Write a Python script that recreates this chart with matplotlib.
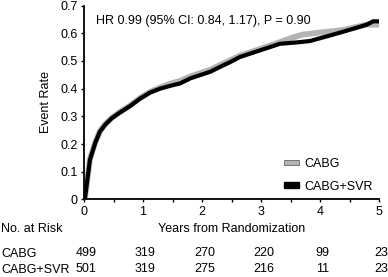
import matplotlib.pyplot as plt
from matplotlib.patches import Patch

plt.rcParams['font.family'] = ['Liberation Sans', 'DejaVu Sans']

# cumulative event rate
years_svr = [0, 0.02, 0.1, 0.19, 0.27, 0.36, 0.47, 0.61, 0.78, 0.95, 1.12, 1.29, 1.46,
             1.63, 1.80, 1.97, 2.14, 2.31, 2.47, 2.64, 2.98, 3.32, 3.5, 3.66, 3.83, 4.0,
             4.17, 4.35, 4.56, 4.79, 4.9, 4.97]
rate_svr = [0, 0.01, 0.143, 0.204, 0.245, 0.27, 0.293, 0.314, 0.337, 0.364, 0.386, 0.40, 0.41,
            0.419, 0.437, 0.449, 0.461, 0.479, 0.495, 0.514, 0.538, 0.562, 0.565, 0.568, 0.572, 0.582,
            0.592, 0.603, 0.616, 0.631, 0.643, 0.643]

years_cabg = [0, 0.02, 0.1, 0.19, 0.27, 0.36, 0.47, 0.61, 0.78, 0.95, 1.12, 1.29, 1.46,
              1.63, 1.80, 1.97, 2.14, 2.31, 2.47, 2.64, 2.98, 3.32, 3.5, 3.7, 3.9, 4.1,
              4.25, 4.4, 4.56, 4.79, 4.9, 4.97]
rate_cabg = [0, 0.012, 0.145, 0.206, 0.247, 0.272, 0.295, 0.316, 0.339, 0.366, 0.388, 0.404, 0.418,
             0.428, 0.444, 0.456, 0.468, 0.486, 0.502, 0.519, 0.543, 0.568, 0.582, 0.595, 0.600, 0.605,
             0.608, 0.612, 0.62, 0.631, 0.631, 0.631]

risk_years = [0, 1, 2, 3, 4, 5]
risk_cabg = [499, 319, 270, 220, 99, 23]
risk_svr = [501, 319, 275, 216, 11, 23]

fig = plt.figure(figsize=(3.88, 2.77), dpi=100)
ax = fig.add_axes([0.2165, 0.28, 0.7605, 0.70])

ax.plot(years_cabg, rate_cabg, color='#b4b4b4', lw=4.2, solid_joinstyle='miter')
ax.plot(years_svr, rate_svr, color='black', lw=3.0, solid_joinstyle='miter')

ax.set_xlim(0, 5)
ax.set_ylim(0, 0.7)
ax.set_xticks(risk_years)
ax.set_xticks([0.5, 1.5, 2.5, 3.5, 4.5], minor=True)
ax.set_yticks([0, 0.1, 0.2, 0.3, 0.4, 0.5, 0.6, 0.7])
ax.set_yticklabels(['0', '0.1', '0.2', '0.3', '0.4', '0.5', '0.6', '0.7'])
ax.tick_params(labelsize=9, length=2.5, width=1, pad=2)
ax.tick_params(which='minor', length=2, width=1)
for s in ['top', 'right']:
    ax.spines[s].set_visible(False)
for s in ['left', 'bottom']:
    ax.spines[s].set_linewidth(1.3)

ax.set_ylabel('Event Rate', fontsize=9, labelpad=6)
ax.set_xlabel('Years from Randomization', fontsize=9, labelpad=4)

ax.text(0.2, 0.645, 'HR 0.99 (95% CI: 0.84, 1.17), P = 0.90', fontsize=9, va='center')

handles = [Patch(facecolor='#b4b4b4', edgecolor='#666666', lw=0.6),
           Patch(facecolor='black', edgecolor='black')]
ax.legend(handles, ['CABG', 'CABG+SVR'], loc='lower left', bbox_to_anchor=(0.655, 0.0),
          frameon=False, fontsize=9, handlelength=1.2, handleheight=0.35,
          handletextpad=0.4, labelspacing=0.85, borderaxespad=0.15)

# number at risk table
fig.text(0.003, 0.173, 'No. at Risk', fontsize=9, va='center')
fig.text(0.003, 0.083, 'CABG', fontsize=9, va='center')
fig.text(0.003, 0.025, 'CABG+SVR', fontsize=9, va='center')
tr = ax.get_xaxis_transform()
for x, a, b in zip(risk_years, risk_cabg, risk_svr):
    ax.text(x + 0.04, -0.278, str(a), transform=tr, fontsize=9, ha='center', va='center', clip_on=False)
    ax.text(x + 0.04, -0.36, str(b), transform=tr, fontsize=9, ha='center', va='center', clip_on=False)

fig.savefig('out.png', dpi=100)
